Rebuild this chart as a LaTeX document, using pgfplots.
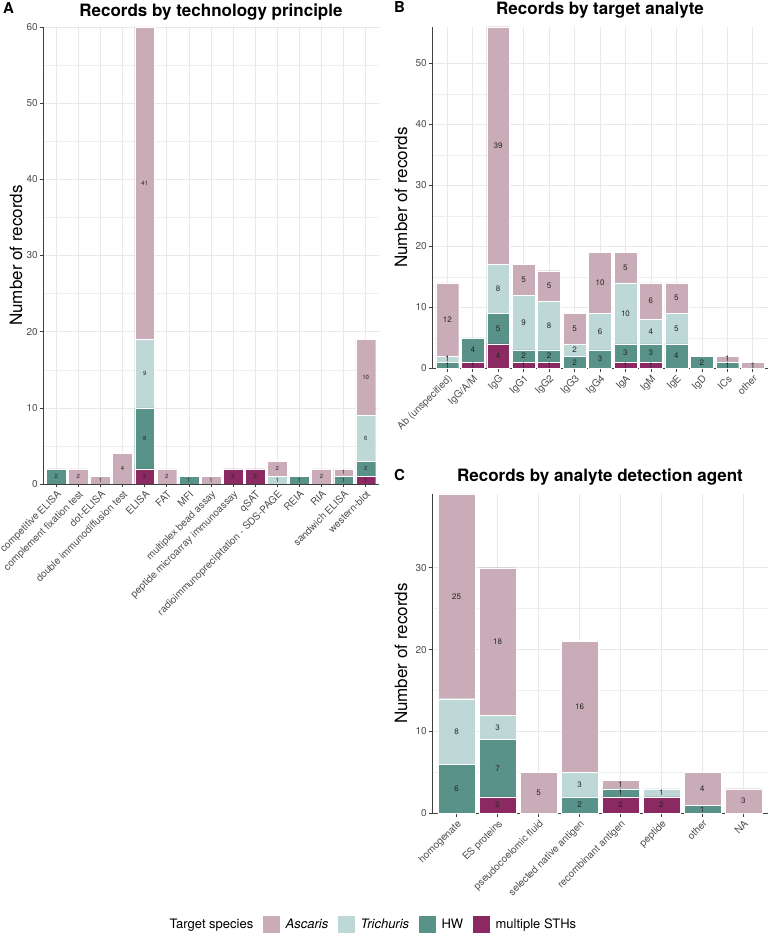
\documentclass[border=0pt]{standalone}
\usepackage{pgfplots}
\pgfplotsset{compat=1.18}
\usepackage{pgfplotstable}
\usepackage{fontspec}
\setmainfont{TeX Gyre Heros}
\definecolor{ascC}{RGB}{201,172,183}
\definecolor{triC}{RGB}{190,216,215}
\definecolor{hwC}{RGB}{88,146,137}
\definecolor{mulC}{RGB}{139,41,98}
\definecolor{gridC}{RGB}{232,232,232}
\definecolor{tickC}{RGB}{77,77,77}

\pgfplotstableread{
x multi hw trich asc
1 0 2 0 0
2 0 0 0 2
3 0 0 0 1
4 0 0 0 4
5 2 8 9 41
6 0 0 0 2
7 0 1 0 0
8 0 0 0 1
9 2 0 0 0
10 2 0 0 0
11 0 0 1 2
12 0 1 0 0
13 0 0 0 2
14 0 1 0 1
15 1 2 6 10
}\dataA

\pgfplotstableread{
x multi hw trich asc
1 0 1 1 12
2 1 4 0 0
3 4 5 8 39
4 1 2 9 5
5 1 2 8 5
6 0 2 2 5
7 0 3 6 10
8 1 3 10 5
9 1 3 4 6
10 0 4 5 5
11 0 2 0 0
12 0 1 0 1
13 0 0 0 1
}\dataB

\pgfplotstableread{
x multi hw trich asc
1 0 6 8 25
2 2 7 3 18
3 0 0 0 5
4 0 2 3 16
5 2 1 0 1
6 2 0 1 0
7 0 1 0 4
8 0 0 0 3
}\dataC

% label positions: middle of each stacked segment
\newcommand\addmids[1]{%
 \pgfplotstablecreatecol[create col/expr={\thisrow{multi}/2}]{mmid}{#1}%
 \pgfplotstablecreatecol[create col/expr={\thisrow{multi}+\thisrow{hw}/2}]{hmid}{#1}%
 \pgfplotstablecreatecol[create col/expr={\thisrow{multi}+\thisrow{hw}+\thisrow{trich}/2}]{tmid}{#1}%
 \pgfplotstablecreatecol[create col/expr={\thisrow{multi}+\thisrow{hw}+\thisrow{trich}+\thisrow{asc}/2}]{amid}{#1}%
}
\addmids\dataA
\addmids\dataB
\addmids\dataC

\pgfplotsset{
  /pgf/number format/assume math mode=true,
  panel/.style={
    scale only axis, ybar stacked, bar width=0.9, ymin=0,
    axis lines*=left, axis line style={-, black!75, line width=0.6pt},
    tick align=outside, major tick length=3.5pt, minor tick length=0pt,
    major tick style={black!75, line width=0.6pt},
    xmajorgrids, ymajorgrids, yminorgrids, minor y tick num=1,
    major grid style={gridC, line width=0.6pt},
    minor grid style={gridC!70, line width=0.35pt},
    every axis title shift=0pt,
    yticklabel style={font=\fontsize{10}{12}\selectfont, text=tickC, inner sep=1.5pt},
    xticklabel style={font=\fontsize{10}{12}\selectfont, text=tickC, rotate=45, anchor=north east, inner sep=1.5pt},
    ylabel={Number of records},
    ylabel style={font=\fontsize{17}{20}\selectfont, anchor=center},
    title style={font=\bfseries\fontsize{17}{20}\selectfont, at={(0.5,1)}, anchor=base},
  },
  seg/.style={fill=#1, draw=white, line width=0.35pt},
  labaxis/.style={scale only axis, hide axis, ymin=0},
  labs/.style={only marks, mark=*, mark size=0pt, mark options={draw=none, fill=none},
    point meta=explicit,
    nodes near coords={\pgfmathfloatifflags{\pgfplotspointmeta}{0}{}{\pgfmathprintnumber{\pgfplotspointmeta}}},
    every node near coord/.append style={anchor=center, inner sep=0pt, text=black!85}},
}

\begin{document}
\begin{tikzpicture}
\useasboundingbox (0pt,0pt) rectangle (769pt,933pt);

% Panel A
\begin{axis}[panel, at={(43pt,449pt)}, anchor=south west,
  width=336pt, height=457pt,
  xmin=0.4, xmax=15.6, ymax=60, ytick={0,10,...,60},
  xtick={1,...,15},
  xticklabels={competitive ELISA, complement fixation test, dot-ELISA, double immunodiffusion test, ELISA, FAT, MFI, multiplex bead assay, peptide microarray immunoassay, qSAT, radioimmunoprecipitation - SDS-PAGE, REIA, RIA, sandwich ELISA, western-blot},
  ylabel style={at={(axis description cs:-0.08,0.5)}},
  title={Records by technology principle}, title style={yshift=10pt},
]
\addplot[seg=mulC] table[x=x,y=multi]{\dataA};
\addplot[seg=hwC] table[x=x,y=hw]{\dataA};
\addplot[seg=triC] table[x=x,y=trich]{\dataA};
\addplot[seg=ascC] table[x=x,y=asc]{\dataA};
\end{axis}
\begin{axis}[labaxis, at={(43pt,449pt)}, anchor=south west,
  width=336pt, height=457pt, xmin=0.4, xmax=15.6, ymax=60,
  every node near coord/.append style={font=\fontsize{6}{7}\selectfont}]
\addplot[labs] table[x=x,y=mmid,meta=multi]{\dataA};
\addplot[labs] table[x=x,y=hmid,meta=hw]{\dataA};
\addplot[labs] table[x=x,y=tmid,meta=trich]{\dataA};
\addplot[labs] table[x=x,y=amid,meta=asc]{\dataA};
\end{axis}

% Panel B
\begin{axis}[panel, at={(432pt,564.7pt)}, anchor=south west,
  width=336pt, height=341.6pt,
  xmin=0.4, xmax=13.6, ymax=56, ytick={0,10,...,50},
  xtick={1,...,13},
  xticklabels={Ab (unspecified), IgG/A/M, IgG, IgG1, IgG2, IgG3, IgG4, IgA, IgM, IgE, IgD, ICs, other},
  ylabel style={at={(axis description cs:-0.092,0.5)}},
  title={Records by target analyte}, title style={yshift=11.7pt},
]
\addplot[seg=mulC] table[x=x,y=multi]{\dataB};
\addplot[seg=hwC] table[x=x,y=hw]{\dataB};
\addplot[seg=triC] table[x=x,y=trich]{\dataB};
\addplot[seg=ascC] table[x=x,y=asc]{\dataB};
\end{axis}
\begin{axis}[labaxis, at={(432pt,564.7pt)}, anchor=south west,
  width=336pt, height=341.6pt, xmin=0.4, xmax=13.6, ymax=56,
  every node near coord/.append style={font=\fontsize{8}{9}\selectfont}]
\addplot[labs] table[x=x,y=mmid,meta=multi]{\dataB};
\addplot[labs] table[x=x,y=hmid,meta=hw]{\dataB};
\addplot[labs] table[x=x,y=tmid,meta=trich]{\dataB};
\addplot[labs] table[x=x,y=amid,meta=asc]{\dataB};
\end{axis}

% Panel C
\begin{axis}[panel, at={(432pt,119.7pt)}, anchor=south west,
  width=336pt, height=319.3pt,
  xmin=0.4, xmax=8.6, ymax=39, ytick={0,10,...,30},
  xtick={1,...,8},
  xticklabels={homogenate, ES proteins, pseudocoelomic fluid, selected native antigen, recombinant antigen, peptide, other, NA},
  ylabel style={at={(axis description cs:-0.092,0.5)}},
  title={Records by analyte detection agent}, title style={yshift=12pt},
  legend columns=5,
  legend style={at={(axis description cs:-0.182,-0.348)}, anchor=center, draw=none, fill=none,
    font=\fontsize{13}{15}\selectfont, inner sep=0pt,
    /tikz/every odd column/.append style={column sep=4pt},
    /tikz/every even column/.append style={column sep=8pt}},
]
\addlegendimage{empty legend}
\addlegendentry{Target species}
\addlegendimage{legend image code/.code={\fill[ascC] (0pt,-8.5pt) rectangle (16pt,8.5pt);}}
\addlegendentry{\textit{Ascaris}}
\addlegendimage{legend image code/.code={\fill[triC] (0pt,-8.5pt) rectangle (16pt,8.5pt);}}
\addlegendentry{\textit{Trichuris}}
\addlegendimage{legend image code/.code={\fill[hwC] (0pt,-8.5pt) rectangle (16pt,8.5pt);}}
\addlegendentry{HW}
\addlegendimage{legend image code/.code={\fill[mulC] (0pt,-8.5pt) rectangle (16pt,8.5pt);}}
\addlegendentry{multiple STHs}
\addplot[seg=mulC] table[x=x,y=multi]{\dataC};
\addplot[seg=hwC] table[x=x,y=hw]{\dataC};
\addplot[seg=triC] table[x=x,y=trich]{\dataC};
\addplot[seg=ascC] table[x=x,y=asc]{\dataC};
\end{axis}
\begin{axis}[labaxis, at={(432pt,119.7pt)}, anchor=south west,
  width=336pt, height=319.3pt, xmin=0.4, xmax=8.6, ymax=39,
  every node near coord/.append style={font=\fontsize{8}{9}\selectfont}]
\addplot[labs] table[x=x,y=mmid,meta=multi]{\dataC};
\addplot[labs] table[x=x,y=hmid,meta=hw]{\dataC};
\addplot[labs] table[x=x,y=tmid,meta=trich]{\dataC};
\addplot[labs] table[x=x,y=amid,meta=asc]{\dataC};
\end{axis}

\node[font=\bfseries\fontsize{15}{18}\selectfont, anchor=base west, inner sep=0pt] at (3pt,919pt) {A};
\node[font=\bfseries\fontsize{15}{18}\selectfont, anchor=base west, inner sep=0pt] at (394pt,920pt) {B};
\node[font=\bfseries\fontsize{15}{18}\selectfont, anchor=base west, inner sep=0pt] at (394pt,452pt) {C};
\end{tikzpicture}
\end{document}
